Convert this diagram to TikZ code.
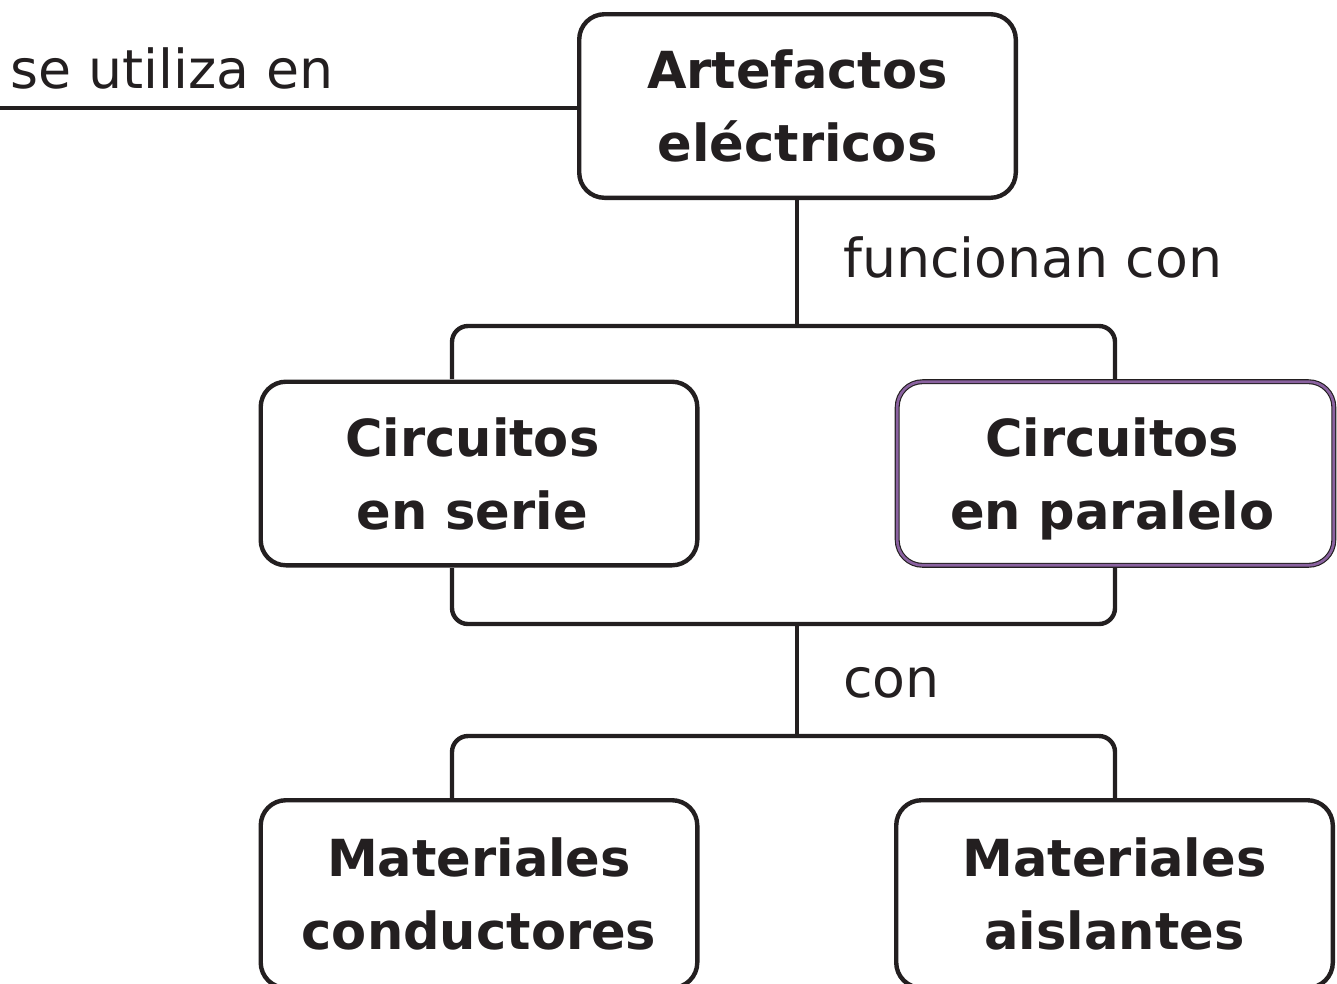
\documentclass[tikz,border=0pt]{standalone}
\usepackage{fontspec}
\setmainfont{DejaVu Sans}
\definecolor{ink}{HTML}{231F20}
\definecolor{violet}{HTML}{8A62A0}
\begin{document}
\begin{tikzpicture}[x=0.75pt,y=-0.75pt,
  box/.style={draw=ink, line width=3.3pt, rounded corners=19pt, fill=white,
    minimum width=441*0.75pt-3.3pt, minimum height=188*0.75pt-3.3pt, inner sep=0pt,
    align=center, text=ink, font=\bfseries\fontsize{38.3}{54.75}\selectfont},
  vbox/.style={box, line width=0.85pt, draw=ink, double=violet, double distance=2pt},
  conn/.style={draw=ink, line width=3.3pt, rounded corners=12pt},
  lbl/.style={anchor=base west, inner sep=0pt, text=ink, font=\fontsize{40.3}{46}\selectfont}]
\useasboundingbox (0,0) rectangle (1337,983);
\clip (0,0) rectangle (1337,983);
\node[box] (top) at (797.5,106) {Artefactos\\eléctricos};
\node[box] (serie) at (479,473.5) {Circuitos\hspace*{10pt}\\en serie\hspace*{10pt}};
\node[vbox] (par) at (1115.5,473.5) {Circuitos\hspace*{5pt}\\en \smash{p}aralelo\hspace*{5pt}};
\node[box, minimum height=192*0.75pt-3.3pt] (cond) at (479,894) {Materiales\\conductores};
\node[box, minimum height=192*0.75pt-3.3pt] (ais) at (1114.5,894) {Materiales\\aislantes};
\coordinate (lend) at (0,108);
\coordinate (j1) at (797,326);
\coordinate (j2) at (797,624);
\coordinate (j3) at (797,736);
\coordinate (sl) at (452,379);
\coordinate (pr) at (1115,379);
\coordinate (sb) at (452,568);
\coordinate (pb) at (1115,568);
\coordinate (cl) at (452,798);
\coordinate (ar) at (1115,798);
\draw[conn] (lend) -- (top.west |- lend);
\draw[conn] (top.south -| j1) -- (j1);
\draw[conn] (sl) -- (sl |- j1) -- (pr |- j1) -- (pr);
\draw[conn] (sb) -- (sb |- j2) -- (pb |- j2) -- (pb);
\draw[conn] (j2) -- (j3);
\draw[conn] (cl) -- (cl |- j3) -- (ar |- j3) -- (ar);
\node[lbl] (l1) at (10,88) {se utiliza en};
\node[lbl] (l2) at (843,277) {funcionan con};
\node[lbl] (l3) at (843,697) {con};
\end{tikzpicture}
\end{document}
